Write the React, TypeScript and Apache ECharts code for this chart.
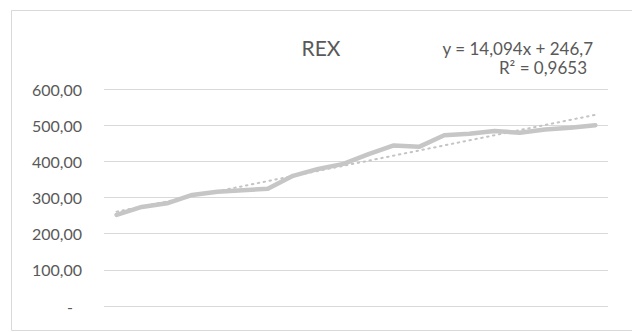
import React, { useEffect, useRef } from "react";
import * as echarts from "echarts";

const categories = ["1","2","3","4","5","6","7","8","9","10","11","12","13","14","15","16","17","18","19","20"];
const rexValues = [252, 274, 284, 307, 316, 320, 324, 360, 379, 393, 420, 444, 440, 472, 476, 484, 479, 488, 493, 500];
const trendSlope = 14.094;
const trendIntercept = 246.7;
const titleText = "REX";
const equationText = "y = 14,094x + 246,7";
const r2Text = "R² = 0,9653";
const yTicks = [0, 100, 200, 300, 400, 500, 600];

const FONT = "Lato, 'Noto Sans', sans-serif";
const TEXT = "#595959";

export default function App() {
  const ref = useRef<HTMLDivElement>(null);
  useEffect(() => {
    if (!ref.current) return;
    const chart = echarts.init(ref.current, null, { renderer: "svg" });
    const trend = categories.map((_, i) => +(trendSlope * (i + 1) + trendIntercept).toFixed(2));
    chart.setOption({
      animation: false,
      backgroundColor: "#ffffff",
      grid: { left: 104, right: 24, top: 89, bottom: 26, containLabel: false },
      xAxis: {
        type: "category",
        data: categories,
        boundaryGap: true,
        axisLine: { show: false },
        axisTick: { show: false },
        axisLabel: { show: false },
        splitLine: { show: false },
      },
      yAxis: {
        type: "value",
        min: yTicks[0],
        max: yTicks[yTicks.length - 1],
        interval: 100,
        axisLine: { show: false },
        axisTick: { show: false },
        splitLine: { lineStyle: { color: "#d9d9d9", width: 1 } },
        axisLabel: {
          margin: 22,
          color: TEXT,
          fontFamily: FONT,
          fontSize: 16,
          formatter: (v: number) => (v === 0 ? "{z|-}" : v.toFixed(2).replace(".", ",")),
          rich: { z: { color: TEXT, fontFamily: FONT, fontSize: 16, padding: [0, 9, 0, 0] } },
        },
      },
      series: [
        {
          type: "line",
          data: trend,
          symbol: "none",
          z: 2,
          lineStyle: { color: "#c4c4c4", width: 2, type: [1.5, 4.5], cap: "round" },
        },
        {
          type: "line",
          data: rexValues,
          symbol: "none",
          z: 3,
          lineStyle: { color: "#c6c6c6", width: 4.5, cap: "round", join: "round" },
        },
      ],
      graphic: [
        {
          type: "rect",
          shape: { x: 11.5, y: 10.5, width: 640, height: 320 },
          style: { fill: "none", stroke: "#d9d9d9", lineWidth: 1 },
          silent: true,
        },
        {
          type: "text",
          x: 321,
          y: 47,
          style: { text: titleText, fill: TEXT, font: `21px ${FONT}`, textAlign: "center", textVerticalAlign: "middle" },
        },
        {
          type: "text",
          x: 593,
          y: 48,
          style: { text: equationText, fill: TEXT, font: `17px ${FONT}`, textAlign: "right", textVerticalAlign: "middle" },
        },
        {
          type: "text",
          x: 543,
          y: 67,
          style: { text: r2Text, fill: TEXT, font: `17px ${FONT}`, textAlign: "center", textVerticalAlign: "middle" },
        },
      ],
    });
    return () => chart.dispose();
  }, []);
  return (
    <div
      ref={ref}
      style={{ position: "fixed", left: 0, top: 0, width: 632, height: 332, background: "#fff" }}
    />
  );
}
